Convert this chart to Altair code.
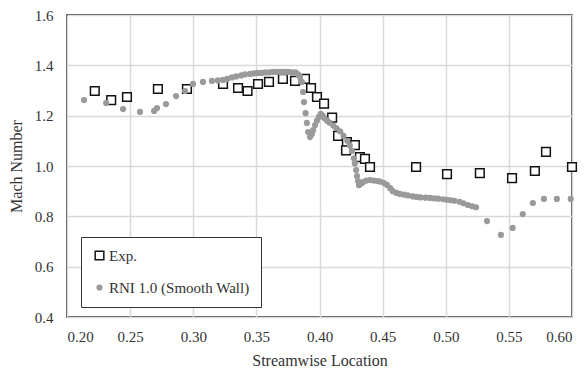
import altair as alt
import pandas as pd

exp_x = [0.222, 0.235, 0.2475, 0.272, 0.295, 0.3236, 0.3355, 0.343, 0.3513, 0.360, 0.371, 0.3806,
         0.3885, 0.3933, 0.398, 0.4036, 0.410, 0.4147, 0.4217, 0.421, 0.428, 0.432, 0.436, 0.440,
         0.4765, 0.501, 0.527, 0.5525, 0.5706, 0.5794, 0.600]
exp_y = [1.298, 1.262, 1.274, 1.306, 1.306, 1.326, 1.310, 1.298, 1.326, 1.334, 1.346, 1.338,
         1.346, 1.310, 1.274, 1.248, 1.192, 1.120, 1.095, 1.062, 1.083, 1.035, 1.028, 0.996,
         0.996, 0.968, 0.972, 0.952, 0.980, 1.056, 0.996]

rni_x = [0.2135, 0.231, 0.2444, 0.2578, 0.269, 0.2713, 0.2784, 0.2864, 0.2935, 0.2998, 0.3077, 0.3148,
         0.3195, 0.3236, 0.327, 0.3307, 0.334, 0.338, 0.341, 0.345, 0.348, 0.351, 0.354, 0.357,
         0.360, 0.363, 0.366, 0.369, 0.372, 0.375, 0.378, 0.381, 0.383, 0.3846, 0.386, 0.387,
         0.3877, 0.389, 0.390, 0.391, 0.3925, 0.394, 0.395, 0.3965, 0.398, 0.3995, 0.401, 0.4025,
         0.404, 0.406, 0.408, 0.411, 0.4135, 0.4162, 0.419, 0.422, 0.424, 0.4257, 0.4273, 0.428,
         0.429, 0.4297, 0.4305, 0.4313, 0.433, 0.4345, 0.437, 0.440, 0.443, 0.446, 0.448, 0.451,
         0.4535, 0.456, 0.458, 0.461, 0.4637, 0.467, 0.470, 0.474, 0.477, 0.480, 0.484, 0.4875,
         0.491, 0.494, 0.498, 0.501, 0.504, 0.507, 0.511, 0.514, 0.5176, 0.521, 0.524, 0.5327,
         0.5437, 0.553, 0.561, 0.569, 0.5778, 0.588, 0.599]
rni_y = [1.262, 1.250, 1.226, 1.215, 1.219, 1.230, 1.246, 1.278, 1.298, 1.326, 1.334, 1.338,
         1.340, 1.342, 1.346, 1.352, 1.356, 1.360, 1.364, 1.366, 1.368, 1.370, 1.370, 1.372,
         1.372, 1.374, 1.374, 1.374, 1.374, 1.374, 1.372, 1.372, 1.364, 1.354, 1.334, 1.294,
         1.254, 1.210, 1.171, 1.135, 1.115, 1.127, 1.143, 1.163, 1.180, 1.195, 1.207, 1.200,
         1.190, 1.180, 1.172, 1.160, 1.150, 1.138, 1.120, 1.100, 1.082, 1.060, 1.030, 1.010,
         0.984, 0.960, 0.940, 0.924, 0.930, 0.936, 0.942, 0.944, 0.942, 0.940, 0.938, 0.932,
         0.925, 0.912, 0.900, 0.893, 0.889, 0.886, 0.883, 0.879, 0.877, 0.875, 0.874, 0.873,
         0.871, 0.870, 0.868, 0.866, 0.864, 0.862, 0.858, 0.852, 0.845, 0.840, 0.836, 0.781,
         0.726, 0.754, 0.809, 0.853, 0.869, 0.869, 0.869]

series_names = ["Exp.", "RNI 1.0 (Smooth Wall)"]
x_ticks = [0.20, 0.25, 0.30, 0.35, 0.40, 0.45, 0.50, 0.55, 0.60]
y_ticks = [0.4, 0.6, 0.8, 1.0, 1.2, 1.4, 1.6]

df = pd.concat([
    pd.DataFrame({"x": exp_x, "y": exp_y, "series": series_names[0], "order": 0}),
    pd.DataFrame({"x": rni_x, "y": rni_y, "series": series_names[1], "order": 1}),
], ignore_index=True)

FONT = "'Liberation Serif', 'Times New Roman', 'DejaVu Serif', serif"
TXT = "#333333"
GREY = "#9a9a9a"

chart = alt.Chart(df).mark_point(filled=True, strokeWidth=1.5, opacity=1).encode(
    x=alt.X("x:Q", title="Streamwise Location",
            scale=alt.Scale(domain=[0.2, 0.6], nice=False, zero=False),
            axis=alt.Axis(values=x_ticks, format=".2f", labelPadding=12, titlePadding=8)),
    y=alt.Y("y:Q", title="Mach Number",
            scale=alt.Scale(domain=[0.4, 1.6], nice=False, zero=False),
            axis=alt.Axis(values=y_ticks, format=".1f", labelPadding=14, titlePadding=10)),
    shape=alt.Shape("series:N", scale=alt.Scale(domain=series_names, range=["square", "circle"]),
                    title=None),
    fill=alt.Fill("series:N", scale=alt.Scale(domain=series_names, range=["white", GREY]), title=None),
    stroke=alt.Stroke("series:N", scale=alt.Scale(domain=series_names, range=["#111111", GREY]),
                      title=None),
    size=alt.Size("series:N", scale=alt.Scale(domain=series_names, range=[75, 22]), title=None),
    order=alt.Order("order:Q"),
).properties(
    width=505, height=302,
    autosize=alt.AutoSizeParams(type="none"),
    padding={"left": 67, "top": 15, "right": 14, "bottom": 57},
).configure(
    font=FONT
).configure_view(
    stroke="#111111", strokeWidth=1.5
).configure_axis(
    labelFont=FONT, titleFont=FONT, labelFontSize=15, titleFontSize=16,
    labelColor=TXT, titleColor=TXT, titleFontWeight="normal",
    grid=True, gridColor="#d9d9d9", gridWidth=1.5,
    ticks=False, domain=False,
).configure_legend(
    orient="none", legendX=14, legendY=222,
    labelFont=FONT, labelFontSize=15, labelColor=TXT,
    strokeColor="#333333", fillColor="white", padding=11,
    rowPadding=16, symbolStrokeWidth=1.5, labelLimit=300,
    symbolOffset=0, labelOffset=2,
)

chart.save("out.html", embed_options={"renderer": "svg", "actions": False})
